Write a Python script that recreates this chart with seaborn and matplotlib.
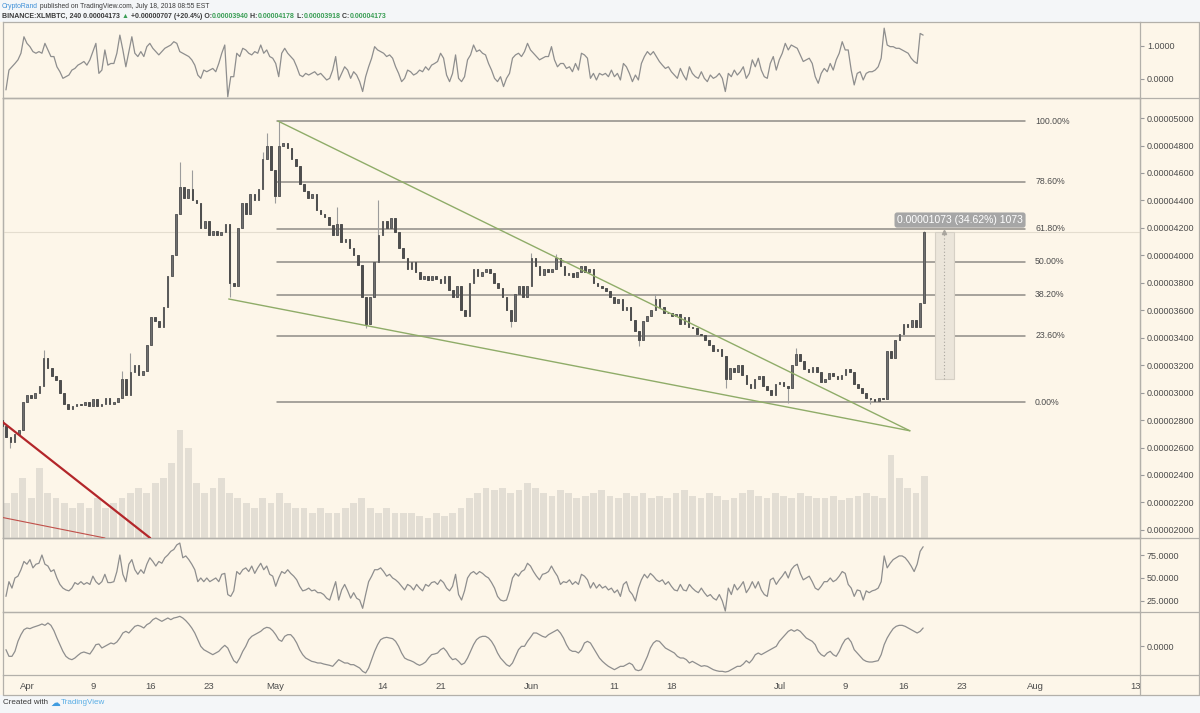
import numpy as np
import pandas as pd
import matplotlib
matplotlib.use('Agg')
import matplotlib.pyplot as plt
import matplotlib.dates as mdates
from matplotlib.patches import Rectangle
from matplotlib.lines import Line2D
from matplotlib.ticker import FuncFormatter, FixedLocator
import seaborn as sns

# ---------------- data (prices in satoshi, 1e-8 BTC) ----------------
candle_start = '2018-03-29 00:00'          # 12h candles
closes_sat = [
    2760, 2680, 2640, 2700, 2730, 2930, 2980, 2960, 3000, 3050,
    3250, 3180, 3120, 3090, 3000, 2920, 2880, 2900, 2920, 2910,
    2930, 2900, 2950, 2900, 2920, 2960, 2920, 2930, 2960, 3100,
    2980, 3150, 3200, 3130, 3160, 3350, 3550, 3520, 3480, 3620,
    3850, 4000, 4300, 4500, 4420, 4480, 4400, 4380, 4200, 4250,
    4150, 4180, 4150, 4170, 4230, 3800, 3780, 4200, 4380, 4300,
    4450, 4400, 4480, 4700, 4800, 4620, 4430, 4800, 4820, 4780,
    4700, 4650, 4520, 4470, 4420, 4450, 4330, 4300, 4280, 4220,
    4150, 4230, 4100, 4120, 4050, 4000, 3930, 3700, 3500, 3700,
    3950, 4150, 4250, 4200, 4270, 4170, 4050, 3980, 3900, 3950,
    3880, 3830, 3850, 3820, 3850, 3830, 3800, 3850, 3750, 3700,
    3780, 3600, 3560, 3800, 3900, 3850, 3880, 3900, 3870, 3800,
    3760, 3700, 3600, 3520, 3720, 3780, 3700, 3780, 3980, 3920,
    3860, 3900, 3880, 3900, 3980, 3920, 3860, 3870, 3840, 3880,
    3920, 3880, 3900, 3800, 3780, 3760, 3740, 3700, 3650, 3680,
    3600, 3620, 3530, 3450, 3380, 3520, 3560, 3600, 3680, 3620,
    3580, 3580, 3560, 3570, 3500, 3550, 3480, 3470, 3430, 3420,
    3380, 3350, 3300, 3320, 3270, 3100, 3180, 3150, 3200, 3130,
    3060, 3030, 3100, 3120, 3050, 3020, 2980, 3060, 3080, 3050,
    3030, 3200, 3280, 3230, 3170, 3150, 3190, 3150, 3080, 3100,
    3140, 3120, 3100, 3130, 3170, 3150, 3060, 3030, 3000, 2960,
    2950, 2940, 2960, 2950, 3300, 3250, 3380, 3430, 3500, 3480,
    3530, 3480, 3650, 4173]
first_open_sat = 2800
wick_high_sat = {10: 3310, 29: 3160, 31: 3290, 43: 4680, 46: 4620, 63: 4750, 64: 4890,
                 67: 4975, 81: 4350, 91: 4400, 128: 4020, 134: 4010, 158: 3720,
                 192: 3325, 223: 4178}
wick_low_sat = {2: 2600, 55: 3700, 66: 4380, 88: 3470, 123: 3480, 154: 3340,
                175: 3030, 190: 2925, 210: 2920}

volume_start = '2018-03-29'                 # daily
volume = [35, 45, 60, 40,
          70, 45, 40, 35, 30, 35, 30, 40,
          30, 35, 40, 45, 50, 45, 55,
          60, 75, 108, 90, 55, 45, 50,
          60, 45, 40, 35, 30, 40, 35, 45,
          35, 30, 30, 25, 30, 25, 25, 30, 35, 40, 30, 25, 30, 25, 25,
          25, 22, 20, 25, 22, 25, 30, 40, 45, 50, 48,
          50, 45, 48, 55, 50, 45, 42, 48, 45, 40, 42, 45, 48, 42, 40, 45, 42, 45, 40,
          42, 40, 45, 48, 42, 40, 45, 42, 38, 40, 45, 48, 42, 40, 45, 42, 40, 45, 42, 40,
          40, 42, 38, 40, 42, 45, 42, 40, 83, 60, 50, 45, 62]

ind_start, ind_end = '2018-03-29 11:00', '2018-07-18 09:00'
top_osc = [
    -0.33, 0.27, 0.37, 0.47, 0.58, 0.78, 1.28, 1.08, 0.98, 0.83,
    0.78, 0.83, 0.78, 1.08, 0.88, 0.68, 0.68, 0.37, 0.22, 0.02,
    0.07, 0.12, 0.27, 0.32, 0.42, 0.47, 0.53, 0.42, 0.58, 0.83,
    1.08, 0.17, 0.27, 0.88, 0.42, 0.47, 0.47, 0.78, 1.33, 0.88,
    0.37, 0.83, 1.28, 0.78, 0.68, 0.83, 0.68, 0.98, 1.08, 0.93,
    0.83, 0.73, 0.83, 0.93, 0.98, 1.03, 1.13, 1.08, 0.83, 0.78,
    0.73, 0.68, 0.58, 0.42, 0.12, 0.02, 0.27, 0.22, 0.27, 0.32,
    0.22, 0.47, 0.78, 1.03, -0.54, 0.07, 0.07, 0.78, 0.68, 0.93,
    0.88, 0.78, 0.73, 0.83, 0.78, 1.03, 0.78, 0.88, 0.68, 0.63,
    0.47, 0.07, 0.78, 0.93, 0.78, 0.68, 0.58, 0.37, 0.12, 0.07,
    0.17, 0.12, 0.17, 0.22, 0.12, 0.17, 0.07, -0.03, 0.02, 0.27,
    0.68, -0.03, 0.17, 0.37, 0.27, 0.02, 0.22, 0.12, -0.08, -0.38,
    0.07, 0.37, 0.63, 0.98, 0.88, 0.83, 0.78, 0.68, 0.73, 0.63,
    0.37, 0.17, -0.08, 0.02, 0.27, 0.22, 0.12, 0.17, 0.27, 0.22,
    0.37, 0.27, 0.42, 0.47, 0.53, 0.78, 0.63, 0.12, -0.08, 0.17,
    0.73, 0.02, -0.08, 0.07, 0.58, 0.73, 1.03, 0.83, 0.88, 0.78,
    0.73, 0.47, 0.27, 0.02, -0.08, 0.07, -0.23, 0.02, 0.17, 0.63,
    0.73, 0.78, 0.68, 0.83, 1.08, 0.88, 0.78, 0.68, 0.58, 0.63,
    0.68, 0.68, 0.98, 0.58, 0.37, 0.47, 0.47, 0.32, 0.37, 0.22,
    0.47, 0.27, 0.78, 0.73, 0.63, 0.02, 0.17, -0.03, 0.17, 0.12,
    0.17, 0.07, 0.27, 0.07, 0.17, -0.03, 0.47, 0.37, 0.17, -0.08,
    0.12, -0.03, 0.47, 0.68, 0.83, 0.73, 0.83, 0.68, 0.53, 0.42,
    0.32, 0.37, 0.22, 0.12, 0.02, 0.32, 0.12, -0.03, 0.37, 0.17,
    0.07, 0.02, 0.22, 0.02, -0.08, 0.12, 0.02, 0.07, 0.17, 0.02,
    -0.38, 0.17, 0.07, 0.27, 0.12, 0.22, 0.37, 0.02, 0.17, 0.58,
    0.37, 0.63, 0.27, 0.07, 0.02, 0.47, 0.68, 0.27, 0.58, 0.78,
    1.08, 0.88, 1.03, 0.98, 0.93, 0.73, 0.53, 0.58, 0.63, 0.47,
    0.07, -0.13, 0.17, 0.32, 0.22, 0.47, 0.27, 0.58, 0.78, 1.13,
    0.88, 0.88, 0.27, -0.18, 0.17, 0.22, -0.03, 0.17, 0.22, 0.22,
    0.27, 0.37, 0.63, 1.54, 1.03, 0.98, 0.98, 0.93, 0.93, 0.88,
    0.83, 0.78, 0.63, 0.53, 0.47, 1.38, 1.33]
rsi = [
    30, 46, 39, 50, 52, 59, 68, 65, 70, 61,
    65, 66, 75, 65, 63, 57, 59, 50, 43, 39,
    37, 36, 39, 45, 43, 46, 43, 45, 43, 52,
    46, 43, 46, 54, 45, 45, 46, 57, 75, 54,
    46, 65, 70, 59, 54, 59, 55, 65, 72, 68,
    63, 68, 66, 72, 75, 79, 81, 86, 88, 72,
    74, 70, 65, 59, 46, 50, 46, 50, 46, 48,
    50, 46, 54, 55, 32, 30, 36, 57, 54, 59,
    61, 57, 63, 55, 61, 66, 59, 63, 54, 52,
    41, 50, 57, 55, 59, 55, 52, 48, 41, 36,
    37, 39, 36, 37, 34, 34, 32, 28, 26, 36,
    46, 26, 37, 43, 36, 28, 34, 28, 26, 17,
    32, 46, 52, 59, 59, 61, 57, 52, 54, 50,
    48, 45, 41, 37, 43, 41, 37, 43, 39, 36,
    43, 41, 45, 46, 43, 48, 45, 39, 36, 41,
    54, 32, 26, 36, 50, 55, 57, 54, 57, 55,
    52, 50, 45, 39, 30, 26, 25, 26, 36, 50,
    55, 52, 57, 59, 66, 63, 57, 52, 48, 54,
    55, 57, 63, 57, 52, 43, 46, 45, 48, 43,
    46, 43, 54, 52, 48, 39, 45, 39, 43, 39,
    41, 37, 39, 34, 37, 30, 43, 46, 36, 32,
    25, 39, 48, 54, 50, 55, 52, 48, 46, 48,
    43, 46, 41, 37, 36, 43, 37, 36, 43, 39,
    36, 34, 39, 34, 30, 32, 28, 26, 32, 25,
    14, 39, 32, 43, 37, 41, 46, 34, 39, 46,
    39, 46, 37, 32, 30, 48, 50, 43, 48, 52,
    57, 50, 59, 63, 65, 55, 48, 50, 52, 46,
    39, 37, 41, 46, 46, 50, 46, 48, 52, 57,
    55, 43, 39, 30, 37, 36, 26, 36, 34, 36,
    37, 39, 46, 74, 61, 66, 70, 72, 74, 74,
    72, 68, 63, 57, 65, 79, 84]
osc = [
    -11, -31, -31, -16, 14, 34, 49, 54, 52, 56,
    59, 62, 66, 62, 69, 62, 46, 24, 4, -16,
    -31, -38, -41, -36, -28, -21, -18, -21, -24, -11,
    4, 6, -6, -1, 4, 9, 6, 12, 24, 39,
    44, 39, 49, 59, 62, 59, 54, 64, 69, 79,
    84, 79, 74, 79, 84, 79, 84, 86, 89, 84,
    76, 66, 54, 39, 19, -1, -11, -16, -21, -26,
    -21, -16, -6, 2, -6, -26, -44, -51, -36, -16,
    -1, 19, 29, 34, 39, 44, 52, 56, 54, 46,
    34, 19, 14, 29, 34, 34, 24, 9, -11, -26,
    -36, -41, -46, -48, -51, -51, -54, -56, -58, -61,
    -51, -41, -46, -51, -51, -56, -56, -61, -66, -76,
    -81, -66, -41, -16, 4, 19, 24, 26, 24, 22,
    14, -1, -21, -36, -41, -44, -48, -54, -58, -54,
    -48, -36, -26, -24, -21, -11, -6, -16, -31, -41,
    -38, -46, -56, -51, -36, -16, 4, 19, 26, 29,
    29, 24, 14, -1, -21, -36, -46, -56, -61, -51,
    -31, -11, -1, -1, 14, 26, 39, 39, 34, 29,
    26, 34, 39, 44, 49, 39, 24, 4, -11, -16,
    -16, -21, -11, 9, 14, 9, -6, -21, -36, -46,
    -54, -61, -66, -71, -66, -61, -61, -56, -51, -56,
    -71, -74, -71, -51, -31, -6, 9, 16, 14, 4,
    -6, -11, -16, -21, -31, -36, -36, -41, -51, -46,
    -51, -56, -61, -59, -61, -66, -71, -74, -76, -76,
    -78, -76, -71, -66, -61, -61, -54, -44, -51, -41,
    -26, -21, -26, -21, -16, -11, -6, -1, 14, 24,
    34, 44, 49, 44, 49, 44, 34, 24, 19, 14,
    4, -16, -26, -31, -21, -16, -26, -31, -16, 4,
    19, 24, 12, -11, -21, -31, -41, -46, -48, -48,
    -46, -44, -26, 4, 24, 39, 52, 59, 62, 62,
    59, 54, 49, 44, 39, 44, 54]

fib_high_sat, fib_low_sat = 4975, 2930
fib_levels = [1.0, 0.786, 0.618, 0.5, 0.382, 0.236, 0.0]
fib_labels = ['100.00%', '78.60%', '61.80%', '50.00%', '38.20%', '23.60%', '0.00%']
fib_span = ('2018-05-01 05:00', '2018-07-30 17:00')
fib_label_at = '2018-07-31 22:00'

wedge_upper = (('2018-05-01 08:30', 4978), ('2018-07-16 18:30', 2722))
wedge_lower = (('2018-04-25 09:30', 3682), ('2018-07-16 18:30', 2722))
red_thick = (('2018-03-28 18:00', 2800), ('2018-04-15 21:30', 1941))
red_thin = (('2018-03-28 18:00', 2094), ('2018-04-10 10:20', 1941))

measure_from, measure_to = 3100, 4173
measure_span = ('2018-07-19 19:00', '2018-07-22 02:00')
measure_text = '0.00001073 (34.62%) 1073'
last_price_sat = 4173

date_ticks = ['2018-04-01', '2018-04-09', '2018-04-16', '2018-04-23', '2018-05-01',
              '2018-05-14', '2018-05-21', '2018-06-01', '2018-06-11', '2018-06-18',
              '2018-07-01', '2018-07-09', '2018-07-16', '2018-07-23', '2018-08-01',
              '2018-08-13']
date_labels = ['Apr', '9', '16', '23', 'May', '14', '21', 'Jun', '11', '18',
               'Jul', '9', '16', '23', 'Aug', '13']

# ---------------- style ----------------
sns.set_theme(style='white')
FAM = ['Liberation Sans', 'DejaVu Sans']
plt.rcParams['font.family'] = FAM

W, H = 1200, 713
CREAM = '#fdf6e9'
FRAME = '#b3b0aa'
TXT = '#4d4d4d'
LINEC = '#8e8e8e'
S = 1e-8


def fy(y):
    return 1 - y / H


fig = plt.figure(figsize=(12, 7.13), dpi=100)
fig.patch.set_facecolor('#f4f6f8')
fig.patches.append(Rectangle((0, fy(695)), 1, (695 - 22) / H, transform=fig.transFigure,
                             facecolor=CREAM, edgecolor='none', zorder=-10))

L, WD = 3 / W, 1137 / W
ax_top = fig.add_axes([L, fy(98), WD, 76 / H])
ax_main = fig.add_axes([L, fy(538), WD, 440 / H], sharex=ax_top)
ax_rsi = fig.add_axes([L, fy(612), WD, 74 / H], sharex=ax_top)
ax_osc = fig.add_axes([L, fy(675), WD, 63 / H], sharex=ax_top)
ax_vol = ax_main.twinx()
ax_main.set_zorder(ax_vol.get_zorder() + 1)

for a in (ax_top, ax_main, ax_rsi, ax_osc, ax_vol):
    a.set_facecolor('none')
    for sp in a.spines.values():
        sp.set_color(FRAME)
        sp.set_linewidth(0.9)
for a in (ax_top, ax_main, ax_rsi, ax_osc):
    a.yaxis.tick_right()
    a.tick_params(axis='y', length=3, width=0.8, color='#9a9a9a', labelsize=6.5,
                  labelcolor=TXT, pad=2)
    a.tick_params(axis='x', length=0, labelbottom=False)
ax_vol.set_yticks([])
ax_vol.set_ylim(0, 440)

# ---------------- volume ----------------
vt = mdates.date2num(pd.date_range(volume_start, periods=len(volume), freq='D') + pd.Timedelta(hours=12))
ax_vol.bar(vt, volume, width=0.82, color='#e3ded4', edgecolor='none', zorder=1)

# ---------------- candles ----------------
ct = mdates.date2num(pd.date_range(candle_start, periods=len(closes_sat), freq='12h'))
c = np.array(closes_sat, dtype=float)
o = np.concatenate([[first_open_sat], c[:-1]])
hi = np.maximum(o, c)
lo = np.minimum(o, c)
for k, v in wick_high_sat.items():
    hi[k] = max(hi[k], v)
for k, v in wick_low_sat.items():
    lo[k] = min(lo[k], v)
ax_main.vlines(ct, lo * S, hi * S, color='#9c9c9c', lw=0.8, zorder=3)
up = c >= o
ax_main.bar(ct[up], (c - o)[up] * S, bottom=o[up] * S, width=0.2, color='#6f6f6f',
            edgecolor='#5a5a5a', lw=0.7, zorder=4)
ax_main.bar(ct[~up], (c - o)[~up] * S, bottom=o[~up] * S, width=0.2, color='#4e4e4e',
            edgecolor='#4e4e4e', lw=0.7, zorder=4)

# last price line
ax_main.axhline(last_price_sat * S, color='#e4ddcf', lw=0.8, zorder=1)

# fib retracement
f0, f1 = mdates.date2num(pd.Timestamp(fib_span[0])), mdates.date2num(pd.Timestamp(fib_span[1]))
fl = mdates.date2num(pd.Timestamp(fib_label_at))
for lev, lab in zip(fib_levels, fib_labels):
    p = (fib_low_sat + lev * (fib_high_sat - fib_low_sat)) * S
    ax_main.plot([f0, f1], [p, p], color='#8f8c86', lw=1.1, zorder=2)
    ax_main.text(fl, p, lab, fontsize=6.3, color=TXT, va='center', ha='left', zorder=5)


def seg(a, pts, **kw):
    xs = [mdates.date2num(pd.Timestamp(t)) for t, _ in pts]
    ys = [v * S for _, v in pts]
    a.plot(xs, ys, **kw)


seg(ax_main, wedge_upper, color='#8fac68', lw=1.0, zorder=5)
seg(ax_main, wedge_lower, color='#8fac68', lw=1.0, zorder=5)
seg(ax_main, red_thick, color='#b3262a', lw=1.6, zorder=5)
seg(ax_main, red_thin, color='#c0504a', lw=0.8, zorder=5)

# measurement tool
m0, m1 = [mdates.date2num(pd.Timestamp(t)) for t in measure_span]
ax_main.add_patch(Rectangle((m0, measure_from * S), m1 - m0, (measure_to - measure_from) * S,
                            facecolor='#ebe5da', edgecolor='#d6d0c5', lw=0.8, zorder=2))
mm = (m0 + m1) / 2
ax_main.plot([mm, mm], [measure_from * S, measure_to * S], color='#a9a59e', lw=0.8,
             ls=(0, (1, 2)), zorder=3)
ax_main.plot([mm], [measure_to * S], marker='^', ms=3, color='#a9a59e', zorder=3)
ax_main.text(mm + 1.9, (measure_to + 84) * S, measure_text, fontsize=7.5, color='white',
             ha='center', va='center', zorder=6,
             bbox=dict(boxstyle='round,pad=0.25', facecolor='#a6a6a6', edgecolor='none'))

# ---------------- indicators ----------------
it = pd.date_range(ind_start, ind_end, periods=len(top_osc))
sns.lineplot(x=it, y=top_osc, ax=ax_top, color=LINEC, lw=0.9)
it2 = pd.date_range(ind_start, ind_end, periods=len(rsi))
sns.lineplot(x=it2, y=rsi, ax=ax_rsi, color=LINEC, lw=0.9)
it3 = pd.date_range(ind_start, ind_end, periods=len(osc))
sns.lineplot(x=it3, y=osc, ax=ax_osc, color=LINEC, lw=0.9)

# ---------------- axes ----------------
base = mdates.date2num(pd.Timestamp('2018-04-01'))
ax_top.set_xlim(base - 2.9, base + 134.6)

ax_top.set_ylim(-0.576, 1.727)
ax_top.set_yticks([0, 1])
ax_top.yaxis.set_major_formatter(FuncFormatter(lambda v, p: f'{v:.4f}'))

ax_main.set_ylim(1941 * S, 5146 * S)
ax_main.set_yticks(np.arange(2000, 5001, 200) * S)
ax_main.yaxis.set_major_formatter(FuncFormatter(lambda v, p: f'{v:.8f}'))

ax_rsi.set_ylim(13, 93.5)
ax_rsi.set_yticks([25, 50, 75])
ax_rsi.yaxis.set_major_formatter(FuncFormatter(lambda v, p: f'{v:.4f}'))

ax_osc.set_ylim(-87, 102)
ax_osc.set_yticks([0])
ax_osc.yaxis.set_major_formatter(FuncFormatter(lambda v, p: f'{v:.4f}'))

for a in (ax_top, ax_main, ax_rsi, ax_osc):
    a.set_xlabel('')
    a.set_ylabel('')

ax_osc.xaxis.set_major_locator(FixedLocator(mdates.date2num(pd.to_datetime(date_ticks))))
ax_osc.set_xticklabels(date_labels)
ax_osc.tick_params(axis='x', length=3, width=0.8, color='#9a9a9a', labelsize=6.8,
                   labelcolor=TXT, pad=2, labelbottom=True)


def fline(x0, y0, x1, y1, color=FRAME, lw=0.9):
    fig.lines.append(Line2D([x0 / W, x1 / W], [fy(y0), fy(y1)], transform=fig.transFigure,
                            color=color, lw=lw))


for yy in (22, 98, 538, 612, 675, 695):
    fline(1140, yy, 1199, yy)
fline(3, 695, 1140, 695)
fline(1140, 675, 1140, 695)
fline(3, 675, 3, 695)
fline(1199, 22, 1199, 695)

# ---------------- header / footer ----------------
fig.canvas.draw()
R = fig.canvas.get_renderer()


def text_w(s, size, weight):
    t = fig.text(0, 0, s, fontsize=size, weight=weight, family=FAM)
    w = t.get_window_extent(renderer=R).width
    t.remove()
    return w


def draw_pieces(x0, yc, pieces, target_w, weight='normal'):
    full = ''.join(s for s, _ in pieces)
    size = 7 * target_w / text_w(full, 7, weight)
    xw = text_w('x', size, weight)
    prefix = ''
    for s, col in pieces:
        off = (text_w(prefix + 'x', size, weight) - xw) if prefix else 0
        fig.text((x0 + off) / W, fy(yc), s, fontsize=size, color=col, va='center',
                 ha='left', weight=weight, family=FAM)
        prefix += s


BLUE = '#3d8fd8'
GREEN = '#3a9e55'
DARK = '#3a3a3a'
draw_pieces(2, 6, [('CryptoRand', BLUE),
                   (' published on TradingView.com, July 18, 2018 08:55 EST', DARK)], 207)
draw_pieces(2, 16, [('BINANCE:XLMBTC, 240 0.00004173 ', DARK), ('▲', GREEN),
                    (' +0.00000707 (+20.4%) O:', DARK), ('0.00003940', GREEN),
                    (' H:', DARK), ('0.00004178', GREEN), (' L:', DARK),
                    ('0.00003918', GREEN), (' C:', DARK), ('0.00004173', GREEN)],
            385, weight='bold')
draw_pieces(3, 703, [('Created with', DARK)], 45)
fig.text(55 / W, fy(703), '☁', fontsize=7, color='#3f9be0', va='center', ha='center',
         family=['DejaVu Sans'])
draw_pieces(61, 703, [('TradingView', '#5aaee6')], 44)

fig.savefig('out.png', dpi=100, facecolor=fig.get_facecolor())
